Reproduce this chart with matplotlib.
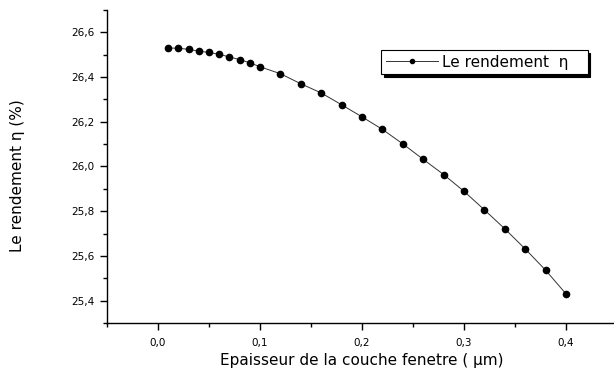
import matplotlib.pyplot as plt
from matplotlib.ticker import MultipleLocator, FuncFormatter

plt.rcParams['font.family'] = ['DejaVu Sans']

# Epaisseur de la couche fenetre (um)
epaisseur = [0.01, 0.02, 0.03, 0.04, 0.05, 0.06, 0.07, 0.08, 0.09, 0.10,
             0.12, 0.14, 0.16, 0.18, 0.20, 0.22, 0.24, 0.26, 0.28, 0.30,
             0.32, 0.34, 0.36, 0.38, 0.40]
# Le rendement (%)
rendement = [26.530, 26.529, 26.524, 26.516, 26.510, 26.502, 26.490, 26.478, 26.464, 26.446,
             26.415, 26.370, 26.329, 26.276, 26.222, 26.166, 26.101, 26.032, 25.964, 25.889,
             25.806, 25.721, 25.631, 25.536, 25.430]

fig = plt.figure(figsize=(6.14, 3.74), dpi=100)
ax = fig.add_axes([107 / 614, 1 - 323 / 374, (614 - 107) / 614, 313 / 374])

ax.plot(epaisseur, rendement, color='#333333', linewidth=0.7, marker='o',
        markersize=4.5, markerfacecolor='black', markeredgecolor='black',
        label='Le rendement  \u03b7   ')

ax.set_xlim(-0.05, 0.447)
ax.set_ylim(25.3, 26.7)

ax.spines['top'].set_visible(False)
ax.spines['right'].set_visible(False)
ax.spines['left'].set_linewidth(1.0)
ax.spines['bottom'].set_linewidth(1.0)

ax.xaxis.set_major_locator(MultipleLocator(0.1))
ax.xaxis.set_minor_locator(MultipleLocator(0.05))
ax.yaxis.set_major_locator(MultipleLocator(0.2))
ax.yaxis.set_minor_locator(MultipleLocator(0.1))

virgule = lambda v, pos: f"{v:.1f}".replace('.', ',')
ax.xaxis.set_major_formatter(FuncFormatter(virgule))
ax.yaxis.set_major_formatter(FuncFormatter(virgule))

ax.tick_params(which='major', length=5, width=1.0, labelsize=7.5)
ax.tick_params(which='minor', length=3, width=1.0)
ax.tick_params(axis='x', which='major', pad=6)
ax.tick_params(axis='y', which='major', pad=4)

ax.set_xlabel('Epaisseur de la couche fenetre ( \u03bcm)', fontsize=11)
ax.set_ylabel('Le rendement \u03b7 (%)', fontsize=11)
ax.xaxis.set_label_coords(0.503, -0.096)
ax.yaxis.set_label_coords(-0.162, 0.47)

leg = ax.legend(loc='upper left', bbox_to_anchor=(381 / 614, 1 - 50 / 374),
                bbox_transform=fig.transFigure, frameon=True, fancybox=False,
                edgecolor='black', fontsize=11, handlelength=3.4,
                borderaxespad=0, borderpad=0.3, handletextpad=0.3,
                shadow={'color': 'black', 'alpha': 1.0})
leg.get_frame().set_linewidth(0.8)
for h in leg.legend_handles:
    h.set_markersize(3)

fig.savefig('out.png', dpi=100)
